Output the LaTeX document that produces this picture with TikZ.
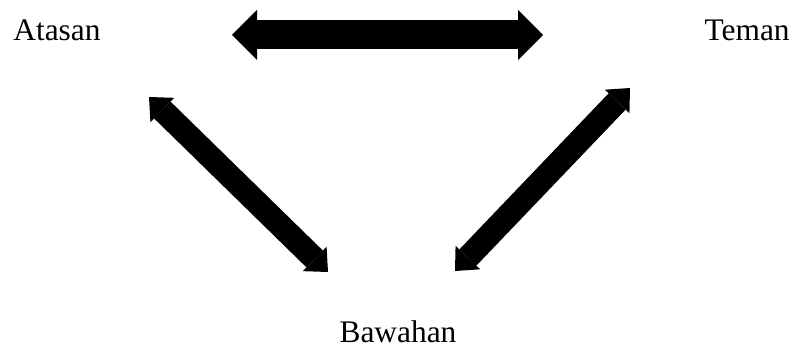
\documentclass[tikz,border=0pt]{standalone}
\usepackage{fontspec}
\setmainfont{Liberation Serif}
\usetikzlibrary{arrows.meta}
\begin{document}
\begin{tikzpicture}[x=0.5pt,y=-0.5pt,
  lbl/.style={inner sep=0pt,font=\fontsize{15.7pt}{18pt}\selectfont},
  bigarrow/.style={line width=14.5pt,
    {Triangle[length=12.5pt,width=25pt,line width=0pt]}-{Triangle[length=12.5pt,width=25pt,line width=0pt]}},
  diagarrow/.style={line width=11.75pt,
    {Triangle[length=9.3pt,width=17pt,line width=0pt]}-{Triangle[length=9.3pt,width=17pt,line width=0pt]}}]
\useasboundingbox (0,0) rectangle (792,347);
\node[lbl,anchor=base west] (atasan) at (13,41) {Atasan};
\node[lbl,anchor=base east] (teman) at (790,41) {Teman};
\node[lbl,anchor=base] (bawahan) at (398,342) {Bawahan};
\coordinate (h1) at (232,35);
\coordinate (h2) at (543,35);
\coordinate (l1) at (149,97);
\coordinate (l2) at (328,272);
\coordinate (r1) at (630,88);
\coordinate (r2) at (455,271);
\draw[bigarrow] (h1) -- (h2);
\draw[diagarrow] (l1) -- (l2);
\draw[diagarrow] (r1) -- (r2);
\end{tikzpicture}
\end{document}
